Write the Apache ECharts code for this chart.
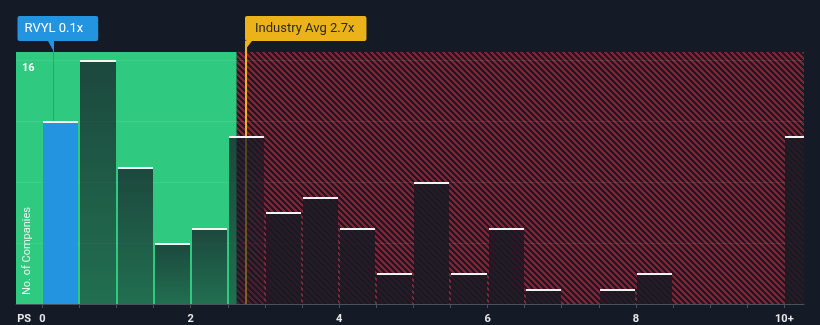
<!DOCTYPE html>
<html>
<head>
<meta charset="utf-8">
<script src="https://cdn.jsdelivr.net/npm/echarts@6/dist/echarts.min.js"></script>
<style>
  html, body { margin: 0; padding: 0; background: #151b26; }
  #chart { width: 820px; height: 325px; }
</style>
</head>
<body>
<div id="chart"></div>
<script>
// Price-to-sales distribution of peer companies: each bin is 0.5x wide, last bin holds 10x and above
const binStarts = [0, 0.5, 1, 1.5, 2, 2.5, 3, 3.5, 4, 4.5, 5, 5.5, 6, 6.5, 7, 7.5, 8, 8.5, 9, 9.5, 10];
const companyCounts = [12, 16, 9, 4, 5, 11, 6, 7, 5, 2, 8, 2, 5, 1, 0, 1, 2, 0, 0, 0, 11];
const binWidth = 0.5;

// Axis ticks and labels
const xTickValues = [0, 0.5, 1, 1.5, 2, 2.5, 3, 3.5, 4, 4.5, 5, 5.5, 6, 6.5, 7, 7.5, 8, 8.5, 9, 9.5, 10];
const xLabelValues = [0, 2, 4, 6, 8, 10];
const yLabelValues = [16];

// Reference values
const companyName = 'RVYL';
const companyPS = 0.148;
const industryAvgPS = 2.74;
const fairRangeEnd = 2.62;

// Visible axis extents
const xMin = -0.355;
const xMax = 10.265;
const yMax = 16.52;
const psNameAt = -0.245;

const FONT = 'Roboto, "Noto Sans", sans-serif';

// Diagonal red hatch used for the "expensive" zone
function makeHatch() {
  const P = 6;
  const c = document.createElement('canvas');
  c.width = P; c.height = P;
  const ctx = c.getContext('2d');
  const img = ctx.createImageData(P, P);
  const red = [122, 41, 52], dark = [27, 26, 36];
  for (let y = 0; y < P; y++) {
    for (let x = 0; x < P; x++) {
      const t = (((x - y) % P) + P) % P;
      const col = t < 3 ? red : dark;
      const i = (y * P + x) * 4;
      img.data[i] = col[0]; img.data[i + 1] = col[1]; img.data[i + 2] = col[2]; img.data[i + 3] = 255;
    }
  }
  ctx.putImageData(img, 0, 0);
  return c;
}
const hatch = makeHatch();

const zoneData = [[xMin, fairRangeEnd, 0], [fairRangeEnd, xMax, 1]];
const barData = binStarts.map((s, i) => [s, companyCounts[i]]);
const markerData = [[companyPS, 0], [industryAvgPS, 0]];
const markerStyles = [
  { color: '#2394e0', text: '#ffffff', lineWidth: 1, label: companyName + ' ' + companyPS.toFixed(1) + 'x', boxShift: -36, padding: [6, 15, 6, 7], flag: 'left' },
  { color: '#ecb21a', text: '#2a2a2a', lineWidth: 2, label: 'Industry Avg ' + industryAvgPS.toFixed(1) + 'x', boxShift: -1, padding: [6, 12, 6, 10], flag: 'right' }
];

const greenFill = new echarts.graphic.LinearGradient(0, 0, 0, 1, [
  { offset: 0, color: 'rgba(21,27,38,0.74)' },
  { offset: 1, color: 'rgba(21,27,38,0.52)' }
]);
const redFill = 'rgba(24,25,35,0.84)';

function binFill(lo) {
  if (companyPS >= lo && companyPS < lo + binWidth) return '#2394e0';
  return lo < fairRangeEnd ? greenFill : redFill;
}

const chart = echarts.init(document.getElementById('chart'), null, { renderer: 'canvas' });

chart.setOption({
  backgroundColor: '#151b26',
  animation: false,
  grid: { left: 16, right: 16, top: 52, bottom: 21 },
  xAxis: {
    type: 'value',
    min: xMin,
    max: xMax,
    splitLine: { show: false },
    axisLine: { show: true, onZero: false, lineStyle: { color: '#4a505c', width: 1 } },
    axisTick: { show: true, customValues: xTickValues, length: 4, lineStyle: { color: '#4a505c' } },
    axisLabel: {
      customValues: [psNameAt].concat(xLabelValues),
      formatter: v => (v < 0 ? 'PS' : v >= 10 ? '10+' : String(v)),
      color: '#e8e8e8',
      fontFamily: FONT,
      fontSize: 11,
      fontWeight: 'bold',
      margin: 10
    }
  },
  yAxis: {
    type: 'value',
    min: 0,
    max: yMax,
    interval: 4,
    axisLine: { show: false },
    axisTick: { show: false },
    splitLine: { show: true, showMaxLine: false, lineStyle: { color: 'rgba(255,255,255,0.09)', width: 1 } },
    axisLabel: {
      inside: true,
      customValues: yLabelValues,
      color: '#ffffff',
      fontFamily: FONT,
      fontSize: 11,
      fontWeight: 'bold',
      verticalAlign: 'top',
      padding: [3, 0, 0, 0],
      margin: 6
    }
  },
  graphic: [{
    type: 'text',
    x: 27.5,
    y: 251,
    rotation: Math.PI / 2,
    style: {
      text: 'No. of Companies',
      fill: '#e8f4ee',
      font: '11px ' + FONT,
      align: 'center',
      verticalAlign: 'middle'
    },
    z: 10
  }],
  series: [
    {
      // valuation zones behind everything
      type: 'custom',
      z: -1,
      silent: true,
      data: zoneData,
      encode: { x: [0, 1] },
      renderItem(params, api) {
        const cs = params.coordSys;
        const a = api.coord([api.value(0), 0]);
        const b = api.coord([api.value(1), 0]);
        const x0 = Math.max(a[0], cs.x), x1 = Math.min(b[0], cs.x + cs.width);
        return {
          type: 'rect',
          shape: { x: x0, y: cs.y, width: x1 - x0, height: cs.height },
          style: { fill: api.value(2) === 0 ? '#2fca7f' : { image: hatch, repeat: 'repeat' } }
        };
      }
    },
    {
      // reference markers with their flags
      type: 'custom',
      z: 1,
      silent: true,
      clip: false,
      data: markerData,
      encode: { x: 0, y: 1 },
      renderItem(params, api) {
        const cs = params.coordSys;
        const m = markerStyles[params.dataIndex];
        const p = api.coord([api.value(0), 0]);
        const x = Math.round(p[0]) + (m.lineWidth === 1 ? 0.5 : 0);
        const boxBottom = cs.y - 11;
        const boxTop = cs.y - 36;
        const tri = m.flag === 'left'
          ? [[x - 5.5, boxBottom], [x + 0.5, boxBottom], [x + 0.5, cs.y]]
          : [[x - 1, boxBottom], [x + 6, boxBottom], [x - 1, cs.y - 2]];
        return {
          type: 'group',
          children: [
            { type: 'line', shape: { x1: x, y1: boxBottom, x2: x, y2: p[1] }, style: { stroke: m.color, lineWidth: m.lineWidth } },
            { type: 'polygon', shape: { points: tri }, style: { fill: m.color } },
            {
              type: 'text',
              x: x + m.boxShift,
              y: boxTop,
              style: {
                text: m.label,
                fill: m.text,
                font: '13px ' + FONT,
                backgroundColor: m.color,
                padding: m.padding,
                borderRadius: 2,
                align: 'left',
                verticalAlign: 'top'
              }
            }
          ]
        };
      }
    },
    {
      // histogram bars with a white cap
      type: 'custom',
      z: 2,
      silent: true,
      data: barData,
      encode: { x: 0, y: 1 },
      renderItem(params, api) {
        const lo = api.value(0), cnt = api.value(1);
        if (!cnt) return null;
        const cs = params.coordSys;
        const top = api.coord([lo, cnt]);
        const bot = api.coord([lo + binWidth, 0]);
        const x0 = Math.round(top[0]) + 1;
        const x1 = Math.min(Math.round(bot[0]) - 1, cs.x + cs.width);
        const y0 = Math.round(top[1]);
        const y1 = Math.round(bot[1]);
        return {
          type: 'group',
          children: [
            { type: 'rect', shape: { x: x0, y: y0, width: x1 - x0, height: y1 - y0 }, style: { fill: binFill(lo) } },
            { type: 'rect', shape: { x: x0, y: y0, width: x1 - x0, height: 2 }, style: { fill: '#f4f4f4' } }
          ]
        };
      }
    }
  ]
});
</script>
</body>
</html>
